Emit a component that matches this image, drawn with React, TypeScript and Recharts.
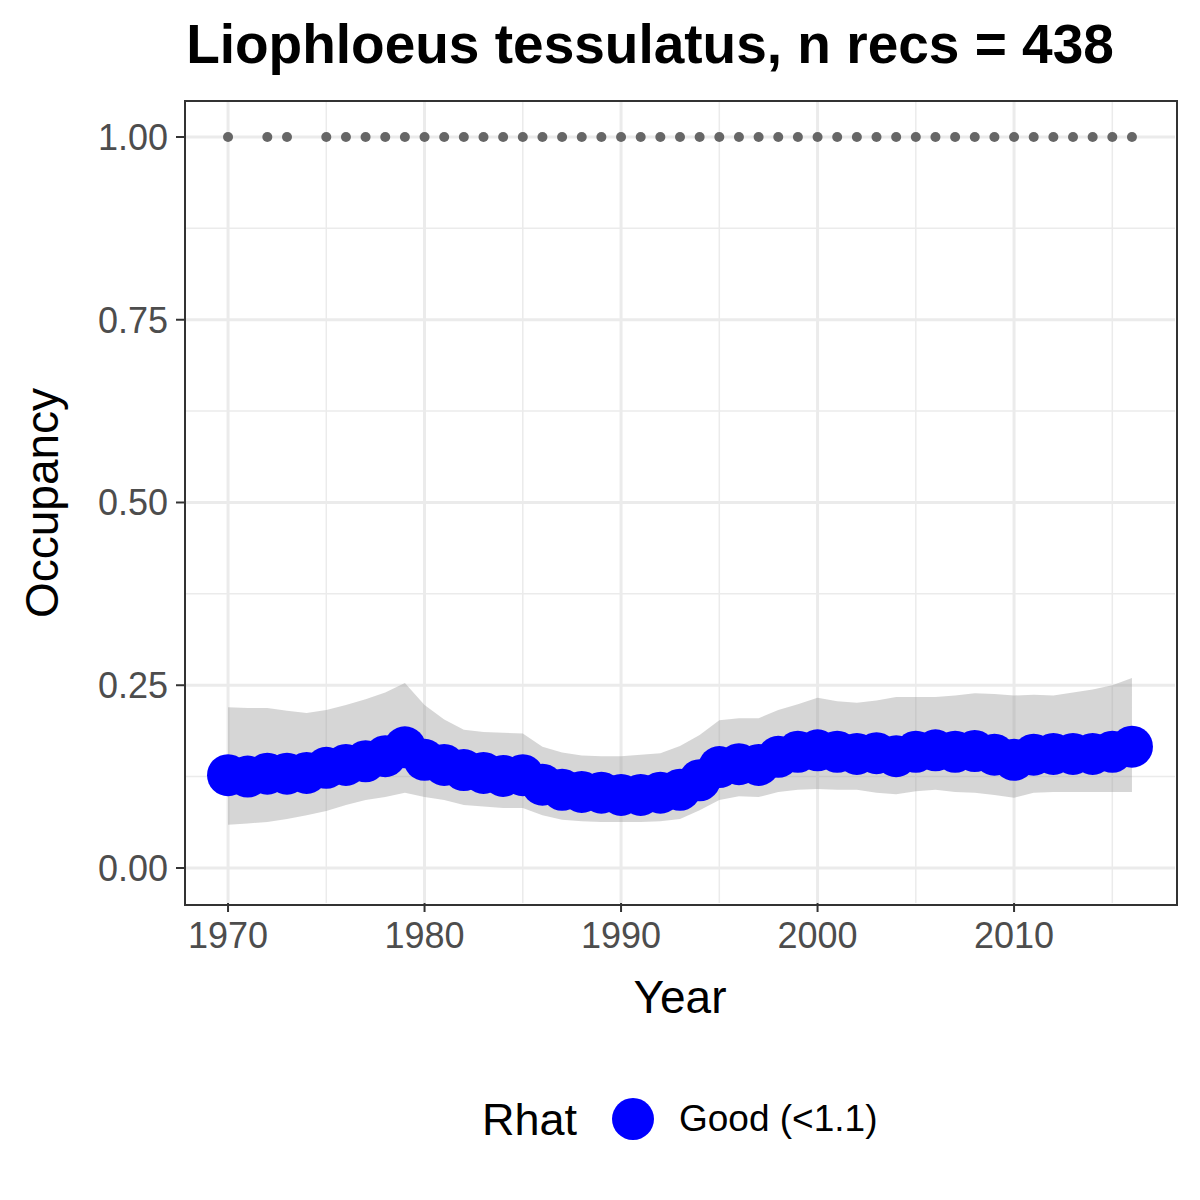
import React from "react";
import { ComposedChart, Area, Scatter, XAxis, YAxis, CartesianGrid } from "recharts";

const years = Array.from({ length: 47 }, (_, i) => 1970 + i);
const mean = [
  0.127, 0.125, 0.129, 0.129, 0.13, 0.137, 0.141, 0.146, 0.153, 0.165,
  0.148, 0.141, 0.134, 0.13, 0.126, 0.127, 0.114, 0.107, 0.104, 0.103,
  0.1, 0.1, 0.103, 0.107, 0.12, 0.138, 0.142, 0.141, 0.152, 0.159,
  0.161, 0.159, 0.156, 0.157, 0.153, 0.159, 0.161, 0.159, 0.16, 0.155,
  0.148, 0.155, 0.156, 0.156, 0.156, 0.159, 0.166,
];
const upper = [
  0.220, 0.219, 0.219, 0.215, 0.212, 0.216, 0.223, 0.231, 0.240, 0.253,
  0.223, 0.203, 0.189, 0.186, 0.185, 0.184, 0.166, 0.158, 0.154, 0.153,
  0.153, 0.155, 0.157, 0.167, 0.182, 0.202, 0.205, 0.205, 0.216, 0.224,
  0.233, 0.228, 0.226, 0.229, 0.234, 0.234, 0.234, 0.236, 0.239, 0.238,
  0.236, 0.237, 0.236, 0.240, 0.244, 0.250, 0.260,
];
const lower = [
  0.059, 0.061, 0.063, 0.067, 0.072, 0.078, 0.086, 0.093, 0.097, 0.103,
  0.097, 0.093, 0.086, 0.084, 0.082, 0.082, 0.072, 0.066, 0.064, 0.063,
  0.063, 0.063, 0.064, 0.067, 0.079, 0.093, 0.098, 0.097, 0.104, 0.107,
  0.108, 0.107, 0.107, 0.103, 0.101, 0.105, 0.107, 0.104, 0.103, 0.100,
  0.096, 0.103, 0.104, 0.104, 0.104, 0.104, 0.104,
];
const recordYears = [1970, 1972, 1973, ...Array.from({ length: 42 }, (_, i) => 1975 + i)];

const xTicks = [1970, 1980, 1990, 2000, 2010];
const xMinor = [1975, 1985, 1995, 2005, 2015];
const yTicks = [0, 0.25, 0.5, 0.75, 1];
const yMinor = [0.125, 0.375, 0.625, 0.875];

const data = years.map((y, i) => ({ year: y, mean: mean[i], band: [lower[i], upper[i]] }));
const recs = recordYears.map((y) => ({ year: y, mean: 1 }));

const FONT = "'Liberation Sans', Arial, sans-serif";

export default function App() {
  return (
    <div style={{ position: "absolute", left: 0, top: 0, width: 1200, height: 1200, background: "#fff", fontFamily: FONT }}>
      <div style={{ position: "absolute", top: 12, left: 0, width: 1300, textAlign: "center", fontSize: 55, fontWeight: "bold", color: "#000" }}>
        Liophloeus tessulatus, n recs = 438
      </div>
      <ComposedChart width={1200} height={1200} data={data} margin={{ top: 100, right: 25, bottom: 217, left: 0 }}>
        <CartesianGrid horizontalValues={yMinor} verticalValues={xMinor} stroke="#ebebeb" strokeWidth={1.5} />
        <CartesianGrid horizontalValues={yTicks} verticalValues={xTicks} stroke="#ebebeb" strokeWidth={3} />
        <XAxis type="number" dataKey="year" domain={[1967.81, 2018.19]} ticks={xTicks} height={80}
          tick={{ fontSize: 36, fill: "#4d4d4d", fontFamily: FONT, dy: 8 }} tickLine={{ stroke: "#333", strokeWidth: 2 }} tickSize={9}
          axisLine={false} allowDataOverflow />
        <YAxis type="number" domain={[-0.0479, 1.0506]} ticks={yTicks} width={185}
          tickFormatter={(v: number) => v.toFixed(2)}
          tick={{ fontSize: 36, fill: "#4d4d4d", fontFamily: FONT, dx: -6 }} tickLine={{ stroke: "#333", strokeWidth: 2 }} tickSize={9}
          axisLine={false} allowDataOverflow />
        <Area dataKey="band" type="linear" fill="#999" fillOpacity={0.4} stroke="none" isAnimationActive={false} />
        <Scatter dataKey="mean" fill="#0000ff" isAnimationActive={false}
          shape={(p: any) => <circle cx={p.cx} cy={p.cy} r={21} fill="#0000ff" />} />
        <Scatter data={recs} dataKey="mean" fill="#666" isAnimationActive={false}
          shape={(p: any) => <circle cx={p.cx} cy={p.cy} r={5} fill="#666" />} />
      </ComposedChart>
      <div style={{ position: "absolute", left: 184, top: 100, width: 990, height: 802, border: "2px solid #333", pointerEvents: "none" }} />
      <div style={{ position: "absolute", left: 480, top: 970, width: 400, textAlign: "center", fontSize: 46, color: "#000" }}>Year</div>
      <div style={{ position: "absolute", left: 42, top: 503, transform: "translate(-50%, -50%) rotate(-90deg)", fontSize: 46, color: "#000", whiteSpace: "nowrap" }}>Occupancy</div>
      <div style={{ position: "absolute", left: 482, top: 1094, fontSize: 45, color: "#000" }}>Rhat</div>
      <div style={{ position: "absolute", left: 612, top: 1098, width: 42, height: 42, borderRadius: "50%", background: "#0000ff" }} />
      <div style={{ position: "absolute", left: 679, top: 1098, fontSize: 37, color: "#000" }}>Good (&lt;1.1)</div>
    </div>
  );
}
